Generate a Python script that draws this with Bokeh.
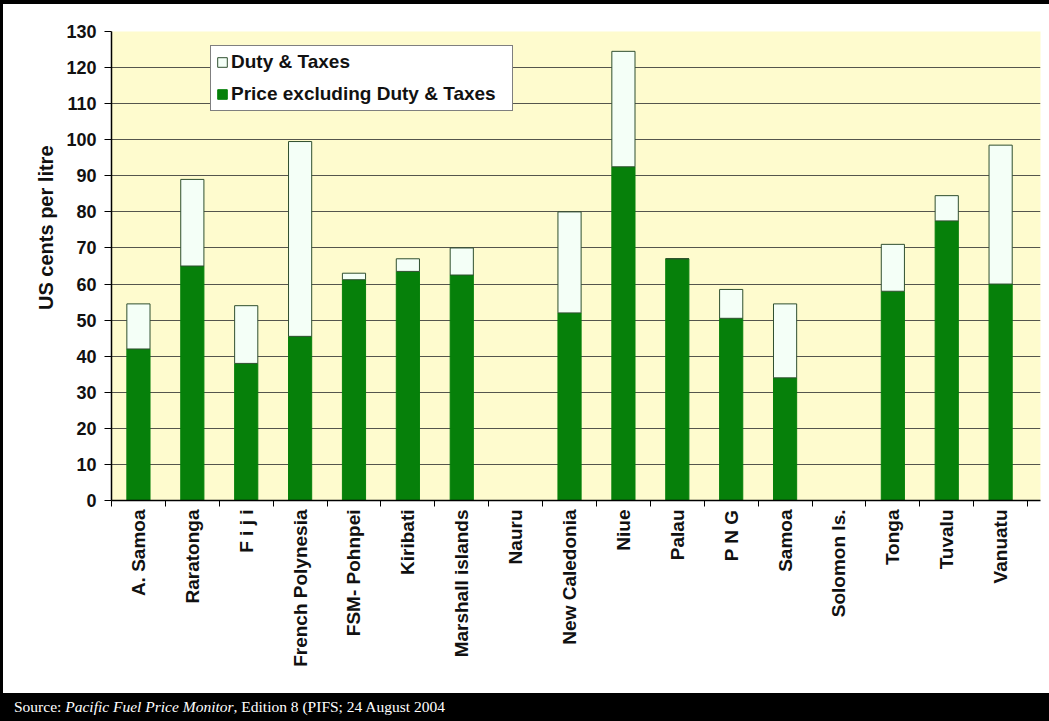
import math
from bokeh.plotting import figure
from bokeh.models import Range1d, FixedTicker, Legend, LegendItem, Div, ColumnDataSource, Title
from bokeh.layouts import row, column
from bokeh.embed import file_html
from bokeh.resources import INLINE

# ---- data ----
countries = ["A. Samoa", "Raratonga", "F i j i", "French Polynesia", "FSM- Pohnpei",
             "Kiribati", "Marshall islands", "Nauru", "New Caledonia", "Niue", "Palau",
             "P N G", "Samoa", "Solomon Is.", "Tonga", "Tuvalu", "Vanuatu"]
price = [42, 65, 38, 45.5, 61.2, 63.5, 62.5, 0, 52, 92.5, 67, 50.5, 34, 0, 58, 77.5, 60]
duty = [12.5, 24, 16, 54, 1.8, 3.5, 7.5, 0, 28, 32, 0, 8, 20.5, 0, 13, 7, 38.5]
y_ticks = list(range(0, 131, 10))
series_names = ["Price excluding Duty & Taxes", "Duty & Taxes"]
y_title = "US cents per litre"

GREEN = "#06800A"
DUTY_FILL = "#F4FFF7"
FONT = "Liberation Sans"

xpos = list(range(len(countries)))
source = ColumnDataSource(dict(x=xpos, price=price, duty=duty))

p = figure(width=1046, height=689,
           x_range=Range1d(-0.5, 16.74), y_range=Range1d(0, 130),
           output_backend="svg", toolbar_location=None,
           min_border_left=108, min_border_right=9, min_border_top=27, min_border_bottom=193,
           background_fill_color="#FEFBCE", border_fill_color="white",
           outline_line_color=None)

rs = p.vbar_stack(["price", "duty"], x="x", width=0.43, source=source,
                  fill_color=[GREEN, DUTY_FILL], line_color=[GREEN, "#2F4F2F"],
                  line_width=1)

# grid
p.xgrid.grid_line_color = None
p.ygrid.grid_line_color = "#55554D"
p.ygrid.grid_line_width = 1

# y axis
p.yaxis.ticker = FixedTicker(ticks=y_ticks)
p.yaxis.major_label_text_font = FONT
p.yaxis.major_label_text_font_style = "bold"
p.yaxis.major_label_text_font_size = "18px"
p.yaxis.major_label_text_color = "#111111"
p.yaxis.major_label_standoff = 8
p.yaxis.major_tick_out = 7
p.yaxis.major_tick_in = 0
p.yaxis.minor_tick_line_color = None
p.yaxis.axis_line_color = "black"
p.yaxis.axis_line_width = 1.5
p.yaxis.major_tick_line_color = "black"

# y axis title, placed towards the top like the reference
p.add_layout(Title(text=y_title, align="right", offset=114, standoff=14,
                   text_font=FONT, text_font_style="bold", text_font_size="20px",
                   text_color="#111111"), "left")

# x axis: labels at centres, ticks at category boundaries
p.xaxis.ticker = FixedTicker(ticks=xpos, minor_ticks=[i - 0.5 for i in range(len(countries) + 1)])
p.xaxis.major_label_overrides = {i: name for i, name in enumerate(countries)}
p.xaxis.major_label_orientation = math.pi / 2
p.xaxis.major_label_text_font = FONT
p.xaxis.major_label_text_font_style = "bold"
p.xaxis.major_label_text_font_size = "19px"
p.xaxis.major_label_text_color = "#111111"
p.xaxis.major_label_standoff = 3
p.xaxis.major_tick_line_color = None
p.xaxis.major_tick_out = 0
p.xaxis.major_tick_in = 0
p.xaxis.minor_tick_line_color = "black"
p.xaxis.minor_tick_out = 6
p.xaxis.minor_tick_in = 0
p.xaxis.axis_line_color = "black"
p.xaxis.axis_line_width = 1.5

legend = Legend(items=[LegendItem(label=series_names[1], renderers=[rs[1]]),
                       LegendItem(label=series_names[0], renderers=[rs[0]])],
                location=(99, 389),
                label_text_font=FONT, label_text_font_style="bold",
                label_text_font_size="19px", label_text_color="#111111",
                glyph_width=12, glyph_height=12, label_standoff=3,
                spacing=10, padding=5, margin=0, label_width=276, label_height=21,
                border_line_color="black", border_line_width=1,
                background_fill_color="white", background_fill_alpha=1)
p.add_layout(legend)

left_bar = Div(text="", width=3, height=693, margin=0, styles={"background-color": "black"})
top_bar = Div(text="", width=1046, height=4, margin=0, styles={"background-color": "black"})
footer = Div(text='<span style="padding-left:14px; line-height:28px; white-space:nowrap;">'
                  'Source: <i>Pacific Fuel Price Monitor</i>, Edition 8 (PIFS; 24 August 2004</span>',
             width=1049, height=28, margin=0,
             styles={"background-color": "black", "color": "white", "margin": "0",
                     "font-family": "Liberation Serif", "font-size": "15.5px"})

layout = column(row(left_bar, column(top_bar, p, spacing=0), spacing=0), footer, spacing=0)

open("out.html", "w").write(file_html(layout, INLINE))
